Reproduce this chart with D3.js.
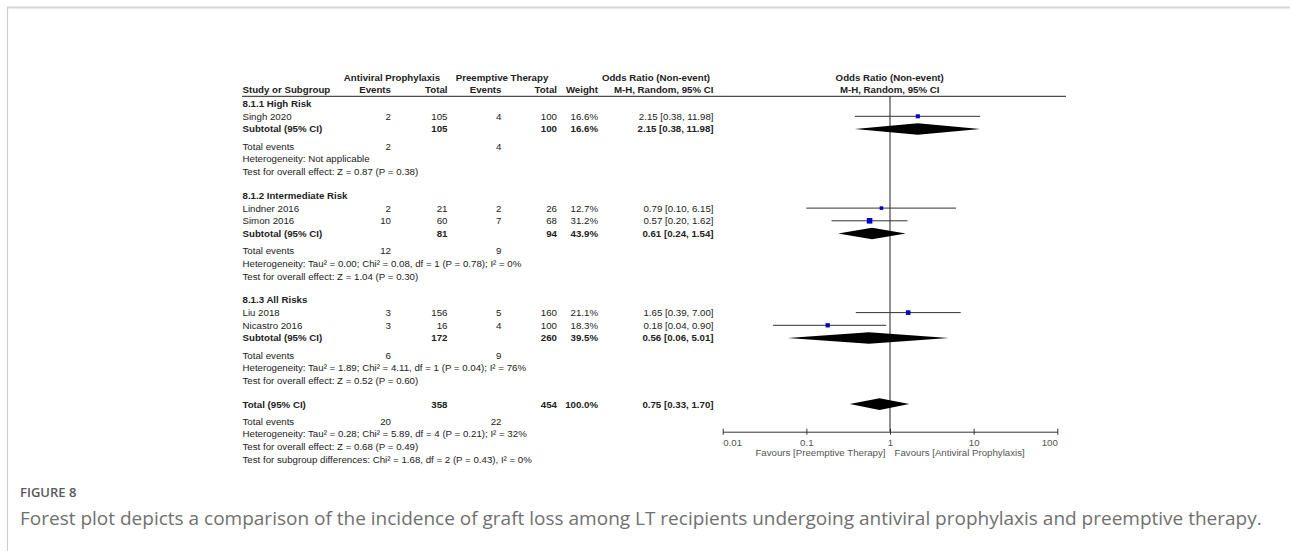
<!DOCTYPE html>
<html>
<head>
<meta charset="utf-8">
<script src="https://cdn.jsdelivr.net/npm/d3@7"></script>
<style>
  html, body { margin: 0; padding: 0; background: #fff; }
  svg { display: block; }
</style>
</head>
<body>
<svg id="chart" width="1290" height="551"></svg>
<script>
// ---- Study-level data ----
const groupTitles = ["8.1.1 High Risk", "8.1.2 Intermediate Risk", "8.1.3 All Risks"];
const studyNames  = ["Singh 2020", "Lindner 2016", "Simon 2016", "Liu 2018", "Nicastro 2016"];
const studyGroup  = [0, 1, 1, 2, 2];
const apEvents    = [2, 2, 10, 3, 3];
const apTotals    = [105, 21, 60, 156, 16];
const ptEvents    = [4, 2, 7, 5, 4];
const ptTotals    = [100, 26, 68, 160, 100];
const weights     = [16.6, 12.7, 31.2, 21.1, 18.3];
const orEst       = [2.15, 0.79, 0.57, 1.65, 0.18];
const orLow       = [0.38, 0.10, 0.20, 0.39, 0.04];
const orHigh      = [11.98, 6.15, 1.62, 7.00, 0.90];

// ---- Subgroup summaries ----
const subApTotals = [105, 81, 172];
const subPtTotals = [100, 94, 260];
const subApEvents = [2, 12, 6];
const subPtEvents = [4, 9, 9];
const subWeights  = [16.6, 43.9, 39.5];
const subEst      = [2.15, 0.61, 0.56];
const subLow      = [0.38, 0.24, 0.06];
const subHigh     = [11.98, 1.54, 5.01];
const subHeterogeneity = [
  "Heterogeneity: Not applicable",
  "Heterogeneity: Tau\u00B2 = 0.00; Chi\u00B2 = 0.08, df = 1 (P = 0.78); I\u00B2 = 0%",
  "Heterogeneity: Tau\u00B2 = 1.89; Chi\u00B2 = 4.11, df = 1 (P = 0.04); I\u00B2 = 76%"
];
const subOverallEffect = [
  "Test for overall effect: Z = 0.87 (P = 0.38)",
  "Test for overall effect: Z = 1.04 (P = 0.30)",
  "Test for overall effect: Z = 0.52 (P = 0.60)"
];

// ---- Pooled totals ----
const totalApTotal = 358, totalPtTotal = 454;
const totalApEvents = 20, totalPtEvents = 22;
const totalWeight = 100.0;
const totalEst = 0.75, totalLow = 0.33, totalHigh = 1.70;
const totalNotes = [
  "Heterogeneity: Tau\u00B2 = 0.28; Chi\u00B2 = 5.89, df = 4 (P = 0.21); I\u00B2 = 32%",
  "Test for overall effect: Z = 0.68 (P = 0.49)",
  "Test for subgroup differences: Chi\u00B2 = 1.68, df = 2 (P = 0.43), I\u00B2 = 0%"
];

// ---- Axis ----
const axisTicks = [0.01, 0.1, 1, 10, 100];
const axisTickLabels = ["0.01", "0.1", "1", "10", "100"];
const favoursLeft = "Favours [Preemptive Therapy]";
const favoursRight = "Favours [Antiviral Prophylaxis]";

const captionTitle = "FIGURE 8";
const captionText = "Forest plot depicts a comparison of the incidence of graft loss among LT recipients undergoing antiviral prophylaxis and preemptive therapy.";

// ================= drawing =================
const svg = d3.select("#chart");
const FONT = "'Liberation Sans', Arial, Helvetica, sans-serif";
const FS = 9.7;
const INK = "#222";

// frame of the figure panel
svg.append("line").attr("x1", 7).attr("x2", 1290).attr("y1", 7.5).attr("y2", 7.5)
  .attr("stroke", "#d6d6d6").attr("stroke-width", 2);
svg.append("line").attr("x1", 7.5).attr("x2", 7.5).attr("y1", 7).attr("y2", 551)
  .attr("stroke", "#cfcfcf").attr("stroke-width", 1.2);

// column anchors
const col = { study: 242.5, apEv: 391, apTot: 447.5, ptEv: 501.5, ptTot: 557, weight: 598, orText: 713.5 };
const plotCenter = 889.7;

const x = d3.scaleLog().domain([0.01, 100]).range([722.7, 1057.3]);
const side = d3.scaleSqrt().domain([0, 100]).range([0, 10]);

const g = svg.append("g").attr("font-family", FONT).attr("font-size", FS).attr("fill", INK);

function txt(xp, yc, s, anchor, bold, color) {
  return g.append("text")
    .attr("x", xp).attr("y", yc + FS * 0.36)
    .attr("text-anchor", anchor || "start")
    .attr("font-weight", bold ? "bold" : "normal")
    .attr("fill", color || INK)
    .text(s);
}
const fmtW = d => d.toFixed(1) + "%";
const fmtCI = (e, l, h) => `${e.toFixed(2)} [${l.toFixed(2)}, ${h.toFixed(2)}]`;

// header
const hdr1 = 77.7, hdr2 = 90, ruleY = 96.3;
txt(392, hdr1, "Antiviral Prophylaxis", "middle", true);
txt(502, hdr1, "Preemptive Therapy", "middle", true);
txt(656, hdr1, "Odds Ratio (Non-event)", "middle", true);
txt(plotCenter, hdr1, "Odds Ratio (Non-event)", "middle", true);
txt(col.study, hdr2, "Study or Subgroup", "start", true);
txt(col.apEv, hdr2, "Events", "end", true);
txt(col.apTot, hdr2, "Total", "end", true);
txt(col.ptEv, hdr2, "Events", "end", true);
txt(col.ptTot, hdr2, "Total", "end", true);
txt(col.weight, hdr2, "Weight", "end", true);
txt(col.orText, hdr2, "M-H, Random, 95% CI", "end", true);
txt(plotCenter, hdr2, "M-H, Random, 95% CI", "middle", true);
svg.append("line").attr("x1", 242).attr("x2", 1066).attr("y1", ruleY).attr("y2", ruleY)
  .attr("stroke", "#222").attr("stroke-width", 1);

// row layout
const ROW = 12.7, HEAD_GAP = 13, SUB_GAP = 4.5, GROUP_GAP = 23.5;
let y = 103.3;
const markRows = [];
const diamondRows = [];

groupTitles.forEach((title, gi) => {
  txt(col.study, y, title, "start", true);
  y += HEAD_GAP;
  studyNames.forEach((name, i) => {
    if (studyGroup[i] !== gi) return;
    txt(col.study, y, name);
    txt(col.apEv, y, apEvents[i], "end");
    txt(col.apTot, y, apTotals[i], "end");
    txt(col.ptEv, y, ptEvents[i], "end");
    txt(col.ptTot, y, ptTotals[i], "end");
    txt(col.weight, y, fmtW(weights[i]), "end");
    txt(col.orText, y, fmtCI(orEst[i], orLow[i], orHigh[i]), "end");
    markRows.push({ y, est: orEst[i], lo: orLow[i], hi: orHigh[i], w: weights[i] });
    y += ROW;
  });
  txt(col.study, y, "Subtotal (95% CI)", "start", true);
  txt(col.apTot, y, subApTotals[gi], "end", true);
  txt(col.ptTot, y, subPtTotals[gi], "end", true);
  txt(col.weight, y, fmtW(subWeights[gi]), "end", true);
  txt(col.orText, y, fmtCI(subEst[gi], subLow[gi], subHigh[gi]), "end", true);
  diamondRows.push({ y, est: subEst[gi], lo: subLow[gi], hi: subHigh[gi] });
  y += ROW + SUB_GAP;
  txt(col.study, y, "Total events");
  txt(col.apEv, y, subApEvents[gi], "end");
  txt(col.ptEv, y, subPtEvents[gi], "end");
  y += ROW;
  txt(col.study, y, subHeterogeneity[gi]);
  y += ROW;
  txt(col.study, y, subOverallEffect[gi]);
  y += GROUP_GAP;
});

// overall total
txt(col.study, y, "Total (95% CI)", "start", true);
txt(col.apTot, y, totalApTotal, "end", true);
txt(col.ptTot, y, totalPtTotal, "end", true);
txt(col.weight, y, fmtW(totalWeight), "end", true);
txt(col.orText, y, fmtCI(totalEst, totalLow, totalHigh), "end", true);
diamondRows.push({ y, est: totalEst, lo: totalLow, hi: totalHigh });
y += ROW + SUB_GAP;
txt(col.study, y, "Total events");
txt(col.apEv, y, totalApEvents, "end");
txt(col.ptEv, y, totalPtEvents, "end");
totalNotes.forEach(n => { y += ROW; txt(col.study, y, n); });

// plot: axis
const axisY = 431.7;
const axis = d3.axisBottom(x).tickValues(axisTicks)
  .tickFormat((d, i) => axisTickLabels[i]).tickSizeOuter(0).tickSizeInner(3).tickPadding(4);
const ag = svg.append("g").attr("transform", `translate(0,${axisY})`).call(axis);
ag.select(".domain").attr("stroke", "#333").attr("stroke-width", 1);
ag.selectAll(".tick line").attr("stroke", "#333").attr("y1", -3).attr("y2", 3);
ag.selectAll(".tick text")
  .attr("font-family", FONT).attr("font-size", FS).attr("fill", "#555")
  .attr("text-anchor", (d, i) => i === 0 ? "start" : (i === axisTicks.length - 1 ? "end" : "middle"));

// no-effect line
svg.append("line").attr("x1", x(1)).attr("x2", x(1)).attr("y1", ruleY).attr("y2", axisY)
  .attr("stroke", "#222").attr("stroke-width", 1);

// favours labels
txt(x(1) - 4.5, 452.3, favoursLeft, "end", false, "#555");
txt(x(1) + 4.5, 452.3, favoursRight, "start", false, "#555");

// study CIs and squares
const marks = svg.append("g");
marks.selectAll("line.ci").data(markRows).join("line").attr("class", "ci")
  .attr("x1", d => x(d.lo)).attr("x2", d => x(d.hi))
  .attr("y1", d => d.y).attr("y2", d => d.y)
  .attr("stroke", "#333").attr("stroke-width", 1);
marks.selectAll("rect").data(markRows).join("rect")
  .attr("x", d => x(d.est) - side(d.w) / 2).attr("y", d => d.y - side(d.w) / 2)
  .attr("width", d => side(d.w)).attr("height", d => side(d.w))
  .attr("fill", "#0000cc");

// pooled diamonds
const DH = 5.8;
marks.selectAll("polygon").data(diamondRows).join("polygon")
  .attr("points", d => [[x(d.lo), d.y], [x(d.est), d.y - DH], [x(d.hi), d.y], [x(d.est), d.y + DH]].join(" "))
  .attr("fill", "#000");

// caption
svg.append("text").attr("x", 20).attr("y", 497)
  .attr("font-family", "'Open Sans', 'Noto Sans', sans-serif").attr("font-size", 13)
  .attr("font-weight", 600).attr("fill", "#5a5a5a").text(captionTitle);
svg.append("text").attr("x", 20).attr("y", 525)
  .attr("font-family", "'Open Sans', 'Noto Sans', sans-serif").attr("font-size", 19)
  .attr("fill", "#707070").text(captionText);
</script>
</body>
</html>
